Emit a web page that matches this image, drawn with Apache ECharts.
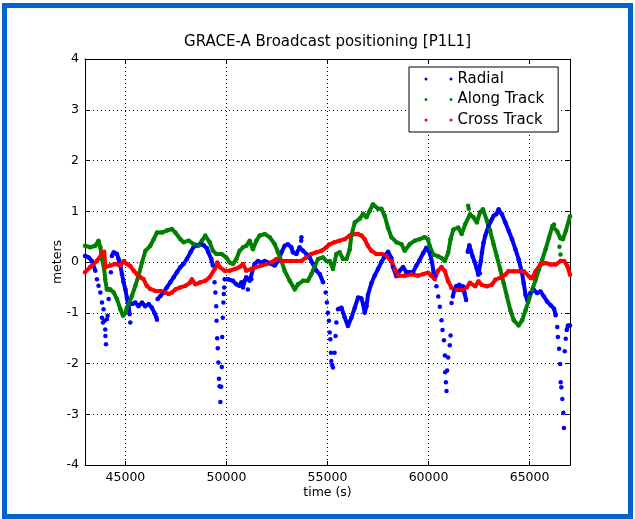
<!DOCTYPE html>
<html>
<head>
<meta charset="utf-8">
<script src="https://cdn.jsdelivr.net/npm/echarts@6/dist/echarts.min.js"></script>
<style>
html,body{margin:0;padding:0;background:#fff;}
#chart{width:635px;height:519px;}
</style>
</head>
<body>
<div id="chart"></div>
<script>
// ---------------- data (time in s, value in meters) ----------------
const titleText = 'GRACE-A Broadcast positioning [P1L1]';
const seriesNames = ['Radial', 'Along Track', 'Cross Track'];
const xName = 'time (s)';
const yName = 'meters';
const yTicks = [-4, -3, -2, -1, 0, 1, 2, 3, 4];

// Radial: continuous stretches
const radialLine = [
  [[43000,0.12],[43180,0.09],[43340,0.02],[43510,-0.17]],
  [[44330,0.12],[44420,0.19],[44580,0.16],[44660,0.06],[44750,-0.07],[44830,-0.24],[44910,-0.4],[45000,-0.54],[45070,-0.7],[45160,-0.9],[45210,-1.03]],
  [[45320,-0.83],[45490,-0.8],[45650,-0.87],[45820,-0.8],[45980,-0.87],[46150,-0.83],[46310,-0.9],[46430,-1.0],[46530,-1.09]],
  [[46590,-0.73],[46730,-0.67],[46890,-0.6],[47050,-0.5],[47220,-0.4],[47390,-0.3],[47550,-0.2],[47720,-0.1],[47880,-0.04],[48040,0.06],[48220,0.19],[48380,0.3],[48550,0.33],[48710,0.35],[48870,0.33],[49030,0.27],[49090,0.2],[49250,0.06],[49330,-0.07]],
  [[49910,-0.34],[50070,-0.34],[50320,-0.37],[50490,-0.44],[50650,-0.47],[50740,-0.4],[50820,-0.5],[50900,-0.37],[50980,-0.3],[51150,-0.37],[51230,-0.34],[51390,-0.04],[51560,0.02],[51730,-0.01],[51890,0.02],[52050,-0.01],[52220,-0.04],[52390,-0.07],[52560,0.02],[52720,0.19],[52880,0.32],[53040,0.35],[53210,0.29],[53290,0.19],[53460,0.16],[53620,0.29],[53790,0.22],[53950,0.16],[54120,0.09],[54280,-0.04],[54450,-0.17],[54620,-0.24],[54780,-0.4]],
  [[55520,-0.93],[55690,-0.9],[55850,-1.09],[56010,-1.26],[56180,-1.1],[56350,-0.9],[56510,-0.7],[56680,-0.72],[56760,-0.83],[56840,-1.0],[56930,-0.87],[57000,-0.65],[57170,-0.42],[57330,-0.27],[57500,-0.14],[57670,0.0],[57800,0.09],[57920,0.16],[58000,0.2],[58160,0.08],[58240,-0.1],[58410,-0.28],[58570,-0.17],[58740,-0.1],[58900,-0.2],[59070,-0.2],[59230,-0.2],[59400,-0.07],[59560,0.04],[59730,0.17],[59890,0.28],[60060,0.18],[60170,0.0],[60250,-0.2]],
  [[61200,-0.68],[61280,-0.55],[61370,-0.48],[61530,-0.45],[61610,-0.55],[61700,-0.48],[61780,-0.61],[61860,-0.75]],
  [[61940,0.2],[62020,0.33],[62100,0.21],[62180,0.11],[62260,0.02],[62380,-0.12],[62460,-0.25],[62540,-0.22],[62590,0.02],[62640,0.18],[62720,0.38],[62800,0.51],[62890,0.61],[62970,0.71],[63050,0.78],[63130,0.84],[63220,0.91],[63350,0.94],[63470,1.04],[63630,0.94],[63800,0.78],[63970,0.61],[64130,0.45],[64300,0.25],[64460,0.05],[64630,-0.22],[64710,-0.42],[64800,-0.65],[64880,-0.75],[65040,-0.61],[65210,-0.55],[65370,-0.61],[65540,-0.58],[65710,-0.68],[65870,-0.78],[66040,-0.85],[66210,-0.92],[66290,-1.05]],
  [[66840,-1.34],[66900,-1.25],[67000,-1.25]]
];
// Radial: separate dots (fast dips)
const radialDots = [
  [43590,-0.34],[43670,-0.47],[43760,-0.6],[43840,-0.8],[43920,-0.93],[43960,-1.16],[44000,-1.33],[44010,-1.46],[44040,-1.62],[43840,-1.1],[43890,-1.19],[44080,-1.13],[44120,-1.06],[44170,-0.73],[44220,-0.54],[44280,-0.2],
  [45240,-1.19],[46560,-1.14],
  [49410,-0.4],[49450,-0.6],[49490,-0.87],[49510,-1.16],[49540,-1.5],[49570,-1.7],[49600,-1.98],[49630,-2.3],[49660,-2.45],[49700,-2.76],[49740,-2.46],[49770,-2.07],[49790,-1.48],[49820,-1.1],[49850,-0.8],[49870,-0.63],[49890,-0.5],
  [51060,-0.54],[53710,0.49],[53700,0.42],
  [54910,-0.6],[54970,-0.8],[55020,-1.0],[55070,-1.16],[55110,-1.39],[55140,-1.52],[55170,-1.79],[55190,-1.95],[55230,-2.03],[55270,-2.08],[55350,-1.79],[55400,-1.46],[55440,-1.19],
  [60310,-0.28],[60390,-0.48],[60480,-0.68],[60560,-0.88],[60640,-1.15],[60690,-1.34],[60760,-1.54],[60810,-1.84],[60820,-2.17],[60860,-2.37],[60890,-2.54],[60920,-2.14],[60970,-1.88],[61050,-1.64],[61090,-1.45],[61140,-0.81],
  [66370,-1.28],[66400,-1.48],[66460,-1.71],[66510,-2.01],[66540,-2.37],[66570,-2.47],[66620,-2.7],[66670,-2.97],[66700,-3.27],[66740,-1.76],[66790,-1.51]
];

// Along Track
const alongLine = [
  [[43000,0.32],[43260,0.29],[43510,0.32],[43670,0.42],[43760,0.29],[43840,0.06],[43950,-0.14],[44000,-0.34],[44080,-0.54],[44250,-0.54],[44420,-0.6],[44580,-0.73],[44750,-0.93],[44880,-1.06],[45000,-1.0],[45070,-0.9],[45160,-0.83],[45320,-0.67],[45490,-0.47],[45650,-0.27],[45820,-0.01],[45990,0.22],[46230,0.32],[46400,0.45],[46560,0.58],[46810,0.58],[47050,0.62],[47300,0.65],[47470,0.58],[47720,0.45],[47880,0.39],[48130,0.42],[48380,0.35],[48620,0.32],[48790,0.42],[48950,0.52],[49170,0.39],[49330,0.22],[49500,0.16],[49750,0.16],[49990,0.09],[50160,-0.01],[50320,-0.04],[50490,0.06],[50650,0.22],[50820,0.29],[50980,0.32],[51150,0.42],[51310,0.25],[51480,0.42],[51640,0.52],[51890,0.55],[52140,0.49],[52390,0.35],[52550,0.19],[52720,0.02],[52880,-0.17],[53130,-0.37],[53380,-0.54],[53540,-0.44],[53790,-0.37],[54030,-0.37],[54200,-0.24],[54370,-0.08],[54530,0.06],[54780,0.09],[54940,0.02],[55110,0.02],[55270,-0.14],[55440,0.16],[55600,0.19],[55770,0.06],[55940,0.06],[56100,0.25],[56180,0.52],[56350,0.78],[56590,0.85],[56760,0.95],[56930,0.88],[57090,1.01],[57250,1.14],[57500,1.05],[57670,1.05],[57830,0.91],[57990,0.68],[58160,0.49],[58410,0.39],[58660,0.35],[58820,0.22],[59070,0.35],[59320,0.42],[59560,0.45],[59810,0.49],[59970,0.45],[60060,0.31],[60230,0.15],[60480,0.11],[60640,0.08],[60810,0.02],[60970,0.18],[61090,0.45],[61230,0.64],[61470,0.68],[61640,0.55],[61810,0.74],[62050,0.94],[62220,0.88],[62390,0.78],[62550,0.98],[62690,1.04],[62890,0.81],[63050,0.61],[63220,0.35],[63380,0.11],[63550,-0.15],[63720,-0.42],[63880,-0.68],[64050,-0.95],[64220,-1.15],[64460,-1.25],[64630,-1.15],[64800,-0.95],[64960,-0.75],[65130,-0.55],[65300,-0.35],[65460,-0.15],[65630,0.05],[65790,0.25],[65960,0.48],[66130,0.71],[66210,0.74],[66370,0.6],[66520,0.47],[66650,0.45],[66800,0.62],[67000,0.9]]
];
const alongDots = [[61960,1.11],[61990,1.05],[66480,0.3],[66530,0.15],[66570,0.02]];

// Cross Track
const crossLine = [
  [[43000,-0.2],[43260,-0.1],[43590,0.02],[43840,0.16],[43950,0.2],[44010,-0.1],[44250,-0.07],[44500,-0.04],[44750,-0.07],[44910,0.02],[45070,-0.04],[45240,-0.08],[45410,-0.17],[45570,-0.24],[45740,-0.3],[45900,-0.34],[46060,-0.47],[46230,-0.53],[46480,-0.57],[46730,-0.57],[46980,-0.6],[47140,-0.63],[47300,-0.6],[47470,-0.54],[47720,-0.5],[47970,-0.47],[48210,-0.4],[48290,-0.34],[48460,-0.44],[48710,-0.4],[48960,-0.37],[49170,-0.3],[49420,-0.14],[49550,-0.01],[49660,-0.1],[49910,-0.17],[50160,-0.17],[50410,-0.14],[50650,-0.1],[50820,-0.04],[50980,-0.17],[51230,-0.14],[51480,-0.1],[51730,-0.07],[51970,-0.04],[52220,-0.01],[52470,0.06],[52720,0.02],[52960,0.02],[53210,0.02],[53460,0.02],[53710,0.02],[53950,0.09],[54200,0.16],[54450,0.19],[54700,0.22],[54940,0.29],[55110,0.35],[55360,0.39],[55600,0.42],[55850,0.45],[56100,0.52],[56350,0.55],[56510,0.55],[56680,0.52],[56840,0.45],[57000,0.32],[57170,0.22],[57420,0.16],[57670,0.16],[57910,0.12],[58160,0.02],[58330,-0.14],[58490,-0.27],[58820,-0.27],[59150,-0.24],[59480,-0.27],[59730,-0.24],[59970,-0.21],[60140,-0.27],[60310,-0.34],[60470,-0.17],[60640,-0.1],[60810,-0.18],[60970,-0.38],[61140,-0.51],[61390,-0.55],[61640,-0.55],[61890,-0.5],[62050,-0.41],[62310,-0.48],[62470,-0.38],[62630,-0.45],[62880,-0.48],[63130,-0.45],[63300,-0.35],[63550,-0.31],[63800,-0.25],[63960,-0.18],[64220,-0.18],[64460,-0.18],[64710,-0.18],[64960,-0.28],[65130,-0.32],[65300,-0.18],[65540,-0.05],[65790,-0.02],[66040,-0.05],[66290,-0.05],[66540,0.02],[66710,0.02],[66870,-0.08],[67000,-0.25]]
];
const crossDots = [];

const colors = ['#0000ff', '#008000', '#ff0000'];

// join segments and isolated dots into one line data list, broken between pieces
function build(segments, dots) {
  const out = [];
  segments.forEach(s => { s.forEach(p => out.push(p)); out.push(['-', '-']); });
  dots.forEach(p => { out.push(p); out.push(['-', '-']); });
  return out;
}

const FONT = 'DejaVu Sans';
const chart = echarts.init(document.getElementById('chart'), null, {renderer: 'canvas'});

const baseAxisLine = {show: true, onZero: false, lineStyle: {color: '#000', width: 1}};
const tick = {show: true, inside: true, length: 4, lineStyle: {color: '#000', width: 1}};
const grid = {left: 85, right: 65, top: 59, bottom: 54, containLabel: false};

function mkSeries(name, color, data) {
  return {
    name: name, type: 'line', data: data,
    xAxisIndex: 0, yAxisIndex: 0,
    showSymbol: true, showAllSymbol: true, symbol: 'circle', symbolSize: 4.5,
    connectNulls: false,
    itemStyle: {color: color, borderWidth: 0},
    lineStyle: {color: color, width: 4},
    emphasis: {disabled: true}, silent: true, animation: false, z: 2
  };
}

const legendIcon = 'path://M1.5,0A1.5,1.5,0,1,1,1.5,3A1.5,1.5,0,1,1,1.5,0ZM26.5,0A1.5,1.5,0,1,1,26.5,3A1.5,1.5,0,1,1,26.5,0Z';

chart.setOption({
  backgroundColor: '#fff',
  animation: false,
  textStyle: {fontFamily: FONT},
  grid: grid,
  graphic: [
    {type: 'rect', shape: {x: 4.5, y: 5.5, width: 626, height: 511}, style: {fill: 'none', stroke: '#0066cc', lineWidth: 5}, z: 100, silent: true},
    {type: 'text', x: 327.5, y: 42, style: {text: titleText, fontFamily: FONT, fontSize: 15, fill: '#000', textAlign: 'center', textVerticalAlign: 'middle'}, z: 10}
  ],
  legend: {
    show: true, data: seriesNames, orient: 'vertical', left: 409, top: 67,
    icon: legendIcon, itemWidth: 28, itemHeight: 3, itemGap: 3.5,
    padding: [3.5, 14, 3.5, 15.5],
    borderColor: '#000', borderWidth: 1, backgroundColor: '#fff',
    textStyle: {fontFamily: FONT, fontSize: 15, color: '#000', lineHeight: 17},
    selectedMode: false, z: 20
  },
  xAxis: [
    {type: 'value', min: 43000, max: 67000, splitNumber: 5, position: 'bottom',
     name: xName, nameLocation: 'middle', nameGap: 21, nameMoveOverlap: false,
     nameTextStyle: {fontFamily: FONT, fontSize: 12.5, color: '#000'},
     axisLine: baseAxisLine, axisTick: tick,
     axisLabel: {show: true, showMinLabel: false, showMaxLabel: false, margin: 6, fontFamily: FONT, fontSize: 12.5, color: '#000',
                 formatter: v => String(v)},
     splitLine: {show: true, lineStyle: {color: '#000', width: 1, type: [1, 3]}}},
    {type: 'value', min: 43000, max: 67000, splitNumber: 5, position: 'top',
     axisLine: baseAxisLine, axisTick: tick, axisLabel: {show: false}, splitLine: {show: false}}
  ],
  yAxis: [
    {type: 'value', min: yTicks[0], max: yTicks[yTicks.length - 1], interval: 1, position: 'left',
     name: yName, nameLocation: 'middle', nameGap: 21, nameMoveOverlap: false,
     nameTextStyle: {fontFamily: FONT, fontSize: 12.5, color: '#000'},
     axisLine: baseAxisLine, axisTick: tick,
     axisLabel: {show: true, margin: 6, fontFamily: FONT, fontSize: 12.5, color: '#000', formatter: v => String(v)},
     splitLine: {show: true, lineStyle: {color: '#000', width: 1, type: [1, 3]}}},
    {type: 'value', min: yTicks[0], max: yTicks[yTicks.length - 1], interval: 1, position: 'right',
     axisLine: baseAxisLine, axisTick: tick, axisLabel: {show: false}, splitLine: {show: false}}
  ],
  series: [
    mkSeries(seriesNames[0], colors[0], build(radialLine, radialDots)),
    mkSeries(seriesNames[1], colors[1], build(alongLine, alongDots)),
    mkSeries(seriesNames[2], colors[2], build(crossLine, crossDots))
  ]
});
</script>
</body>
</html>
